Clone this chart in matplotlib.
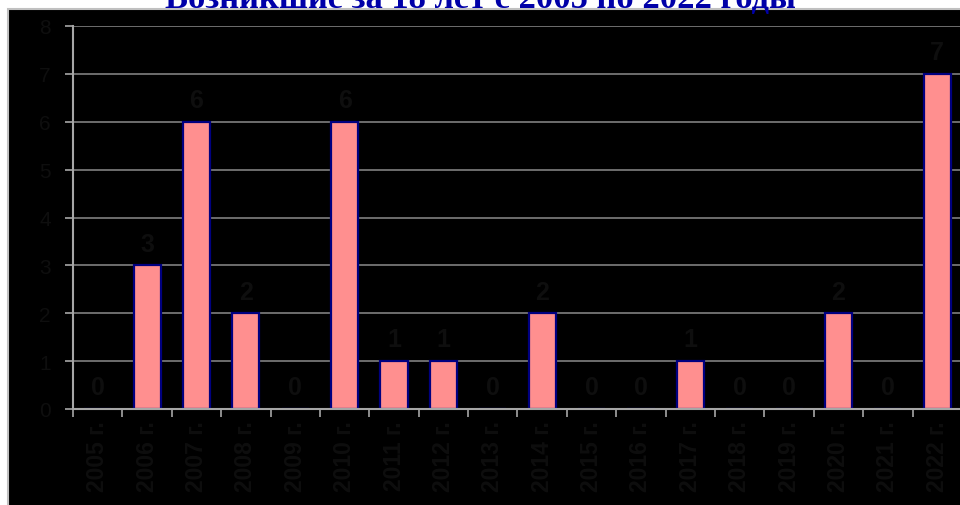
#!/usr/bin/env python3
import matplotlib
matplotlib.use("Agg")
import matplotlib.pyplot as plt
from matplotlib.patches import Rectangle

TITLE  = "Возникшие за 18 лет с 2005 по 2022 годы"
YEARS  = [str(y) + " г." for y in range(2005, 2023)]
COUNTS = [0, 3, 6, 2, 0, 6, 1, 1, 0, 2, 0, 0, 1, 0, 0, 2, 0, 7]

BAR_COLOR  = "#ff8f8f"
EDGE_COLOR = "#000080"
DIM_TEXT   = "#0e0e0e"
AXIS_COLOR = "#a6a6a6"

fig = plt.figure(figsize=(9.6, 5.06), dpi=100)
fig.patch.set_facecolor("white")

# black chart panel with light border
panel = Rectangle((8 / 960, -0.01), 1.0, (506 - 10) / 506 + 0.01, transform=fig.transFigure,
                  facecolor="black", edgecolor="#c0c0c0", linewidth=1.5, zorder=-10)
fig.patches.append(panel)

fig.text(0.5, 498 / 506, TITLE, ha="center", va="baseline", color="#0000a8",
         fontsize=24.8, fontweight="bold", family="Liberation Serif", zorder=5)

ax = fig.add_axes([73 / 960, 96 / 506, 889 / 960, 383 / 506])
ax.set_facecolor("black")

x = range(len(YEARS))
bars = ax.bar(x, COUNTS, 0.55, color=BAR_COLOR, edgecolor=EDGE_COLOR, linewidth=1.6, zorder=3)
for xi, v in zip(x, COUNTS):
    ax.annotate(str(v), (xi, v), xytext=(0, 7), textcoords="offset points", ha="center",
                va="bottom", fontsize=18, fontweight="bold", color=DIM_TEXT, family="Liberation Sans")

ax.set_xlim(-0.5, len(YEARS) - 0.5)
ax.set_ylim(0, 8)
ax.set_yticks(range(9))
ax.yaxis.grid(True, color="#808080", linewidth=1.2, zorder=1)
ax.set_axisbelow(True)

ax.set_xticks([i - 0.5 for i in range(len(YEARS))], minor=False)
ax.set_xticklabels([])
ax.set_xticks(list(x), minor=True)
ax.set_xticklabels(YEARS, minor=True, rotation=90, fontsize=16.5, fontweight="bold",
                   color=DIM_TEXT, family="Liberation Sans")
ax.tick_params(axis="x", which="major", direction="out", length=6, color=AXIS_COLOR, width=1.2)
ax.tick_params(axis="x", which="minor", length=0, pad=8)
ax.tick_params(axis="y", direction="out", length=6, color=AXIS_COLOR, width=1.2,
               labelsize=15, labelcolor=DIM_TEXT, pad=10)
for lbl in ax.get_yticklabels():
    lbl.set_family("Liberation Sans")

for side in ["top", "right"]:
    ax.spines[side].set_visible(False)
for side in ["left", "bottom"]:
    ax.spines[side].set_color(AXIS_COLOR)
    ax.spines[side].set_linewidth(1.5)
    ax.spines[side].set_zorder(4)

fig.savefig("out.png", dpi=100, facecolor=fig.get_facecolor())
